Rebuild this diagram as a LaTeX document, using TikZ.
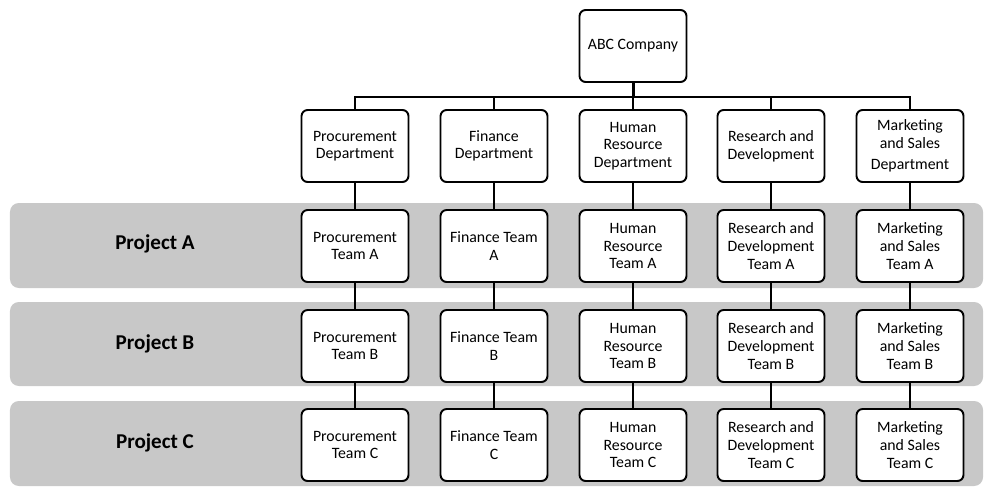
\documentclass[tikz,border=0pt]{standalone}
\usepackage{fontspec}
\setmainfont{Carlito}
\usepackage{tikz}
\definecolor{bandgray}{RGB}{200,200,200}
\tikzset{
	unit/.style={draw,line width=1.1pt,rounded corners=3.5pt,fill=white,minimum width=2.14cm,minimum height=1.44cm,align=center,font=\fontsize{9}{10}\selectfont},
	band/.style={fill=bandgray,rounded corners=5pt},
	link/.style={line width=1.1pt},
	project/.style={font=\fontsize{12}{14}\selectfont\bfseries}
}
\begin{document}
\begin{tikzpicture}
		\useasboundingbox (0,0) rectangle (19.86,-9.9);
		% project bands
		\fill[band] (0.2,-4.06) rectangle (19.66,-5.76);
		\fill[band] (0.2,-6.04) rectangle (19.66,-7.72);
		\fill[band] (0.2,-8.02) rectangle (19.66,-9.72);
		\node[project](pa)at(3.1,-4.88) {Project A};
		\node[project](pb)at(3.1,-6.88) {Project B};
		\node[project](pc)at(3.1,-8.86) {Project C};
		
		\node[unit](abc)at(12.66,-0.92) {ABC Company};
		\coordinate (bus) at (12.66,-1.94);
		
		\node[unit](d1)at(7.1,-2.92) {Procurement\\Department};
		\node[unit](d2)at(9.88,-2.92) {Finance\\Department};
		\node[unit](d3)at(12.66,-2.92) {Human\\Resource\\Department};
		\node[unit](d4)at(15.42,-2.92) {Research and\\Development};
		\node[unit](d5)at(18.2,-2.92) {Marketing\\and Sales\\[2pt]Department};
		
		\node[unit](a1)at(7.1,-4.92) {Procurement\\Team A};
		\node[unit](a2)at(9.88,-4.92) {Finance Team\\A};
		\node[unit](a3)at(12.66,-4.92) {Human\\Resource\\Team A};
		\node[unit](a4)at(15.42,-4.92) {Research and\\Development\\Team A};
		\node[unit](a5)at(18.2,-4.92) {Marketing\\and Sales\\Team A};
		
		\node[unit](b1)at(7.1,-6.92) {Procurement\\Team B};
		\node[unit](b2)at(9.88,-6.92) {Finance Team\\B};
		\node[unit](b3)at(12.66,-6.92) {Human\\Resource\\Team B};
		\node[unit](b4)at(15.42,-6.92) {Research and\\Development\\Team B};
		\node[unit](b5)at(18.2,-6.92) {Marketing\\and Sales\\Team B};
		
		\node[unit](c1)at(7.1,-8.9) {Procurement\\Team C};
		\node[unit](c2)at(9.88,-8.9) {Finance Team\\C};
		\node[unit](c3)at(12.66,-8.9) {Human\\Resource\\Team C};
		\node[unit](c4)at(15.42,-8.9) {Research and\\Development\\Team C};
		\node[unit](c5)at(18.2,-8.9) {Marketing\\and Sales\\Team C};
		
		% tree
		\draw[line width=1.7pt](abc) -- (bus);
		\draw[link](bus) -| (d1);
		\draw[link](bus) -| (d2);
		\draw[link](bus) -- (d3);
		\draw[link](bus) -| (d4);
		\draw[link](bus) -| (d5);
		
		\draw[link](d1) -- (a1);
		\draw[link](d2) -- (a2);
		\draw[link](d3) -- (a3);
		\draw[link](d4) -- (a4);
		\draw[link](d5) -- (a5);
		
		\draw[link](a1) -- (b1);
		\draw[link](a2) -- (b2);
		\draw[link](a3) -- (b3);
		\draw[link](a4) -- (b4);
		\draw[link](a5) -- (b5);
		
		\draw[link](b1) -- (c1);
		\draw[link](b2) -- (c2);
		\draw[link](b3) -- (c3);
		\draw[link](b4) -- (c4);
		\draw[link](b5) -- (c5);
	\end{tikzpicture}
\end{document}
